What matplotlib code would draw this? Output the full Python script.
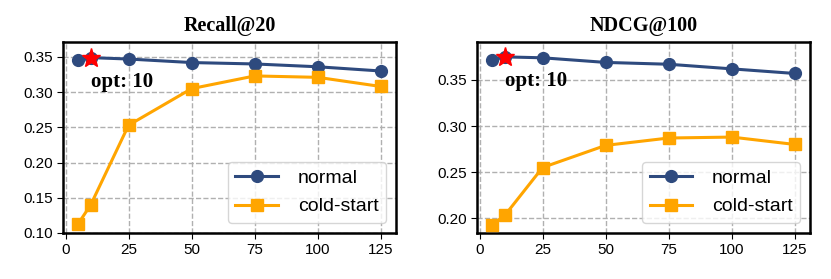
import matplotlib
matplotlib.use("Agg")
import matplotlib.pyplot as plt

# hyper-parameter values on the x axis
dims = [5, 10, 25, 50, 75, 100, 125]

recall_normal = [0.345, 0.349, 0.347, 0.342, 0.340, 0.336, 0.330]
recall_cold = [0.113, 0.140, 0.253, 0.305, 0.323, 0.321, 0.308]

ndcg_normal = [0.372, 0.375, 0.374, 0.369, 0.367, 0.362, 0.357]
ndcg_cold = [0.193, 0.203, 0.255, 0.279, 0.287, 0.288, 0.280]

titles = ["Recall@20", "NDCG@100"]
opt_idx = 1
ylims = [(0.10, 0.371), (0.184, 0.391)]
yticks = [[0.10, 0.15, 0.20, 0.25, 0.30, 0.35], [0.20, 0.25, 0.30, 0.35]]

blue = "#2e4a7e"
orange = "#ffa500"

plt.rcParams["font.family"] = ["Liberation Sans", "DejaVu Sans"]

fig = plt.figure(figsize=(8.31, 2.79), dpi=100)
ax1 = fig.add_axes([0.0758, 0.165, 0.4007, 0.684])
ax2 = fig.add_axes([0.574, 0.165, 0.4007, 0.684])

for ax, title, normal, cold, yl, yt in zip(
        [ax1, ax2], titles, [recall_normal, ndcg_normal], [recall_cold, ndcg_cold], ylims, yticks):
    ax.plot(dims, normal, color=blue, marker="o", lw=2.2, ms=8.5, label="normal", zorder=3)
    ax.plot(dims, cold, color=orange, marker="s", lw=2.2, ms=8.5, label="cold-start", zorder=3)
    ax.plot(dims[opt_idx], normal[opt_idx], marker="*", color="red", ms=14, ls="none", zorder=5)
    ax.annotate("opt: 10", (dims[opt_idx], normal[opt_idx]), xytext=(0, -17.5),
                textcoords="offset points", ha="left", va="center",
                fontsize=15, fontweight="bold", family="Liberation Serif")
    ax.set_title(title, fontsize=14.5, fontweight="bold", family="Liberation Serif", pad=8)
    ax.set_xlim(-1, 131)
    ax.set_ylim(*yl)
    ax.set_xticks([0, 25, 50, 75, 100, 125])
    ax.set_yticks(yt)
    ax.set_yticklabels([f"{v:.2f}" for v in yt])
    ax.tick_params(labelsize=11, length=4)
    ax.grid(True, ls="--", color="#b0b0b0", lw=1)
    for sp in ax.spines.values():
        sp.set_linewidth(1.8)
    ax.legend(loc="lower right", fontsize=14, handlelength=2.2, borderpad=0.4,
              labelspacing=0.55, handletextpad=1.0, borderaxespad=0.5)

fig.savefig("out.png", dpi=100)
